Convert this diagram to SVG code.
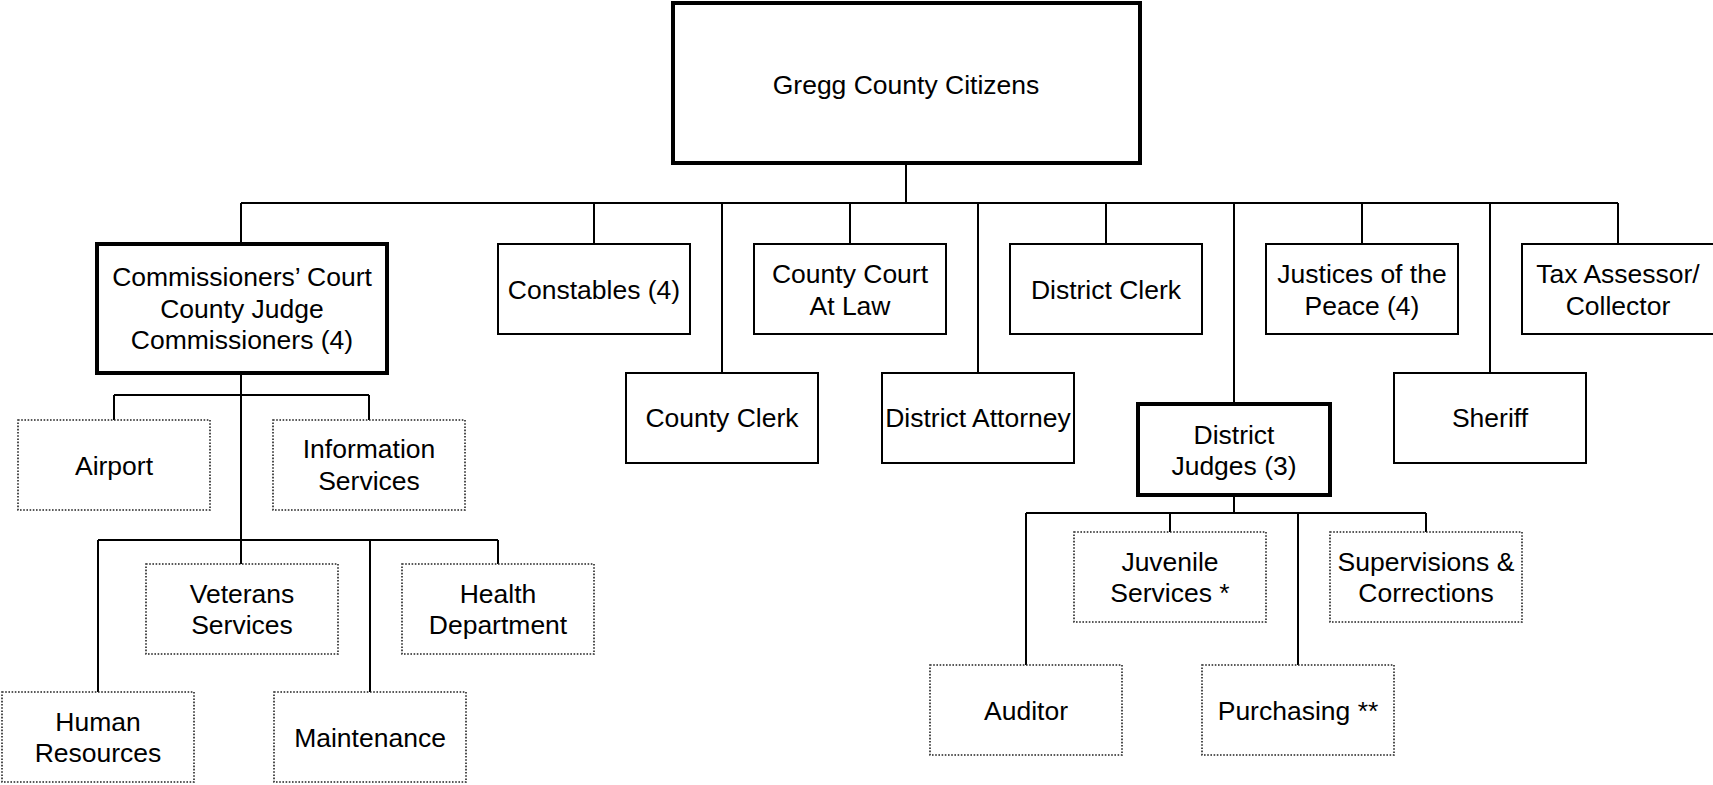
<svg xmlns="http://www.w3.org/2000/svg" width="1713" height="785" viewBox="0 0 1713 785">
<style>
.box{fill:#fff;stroke:#000;stroke-width:2}
.thick{fill:#fff;stroke:#000;stroke-width:4}
.dot{fill:#fff;stroke:#222;stroke-width:1.6;stroke-dasharray:1.6 1.6}
.conn{fill:none;stroke:#000;stroke-width:2}
text{font-family:"Liberation Sans",Arial,sans-serif;font-size:26.5px;fill:#000;text-anchor:middle}
</style>
<rect width="1713" height="785" fill="#fff"/>
<g id="connectors" class="conn">
<path d="M906 164V203M241 203H1618"/>
<path d="M241 203V244M594 203V244M722 203V373M850 203V244M978 203V373M1106 203V244M1234 203V404M1362 203V244M1490 203V373M1618 203V244"/>
<path d="M241 373V564M114 395H369M114 395V420M369 395V420M98 540H498M98 540V692M370 540V692M498 540V564"/>
<path d="M1234 495V513M1026 513H1426M1026 513V665M1170 513V532M1298 513V665M1426 513V532"/>
</g>
<g id="citizens"><rect class="thick" x="673" y="3" width="467" height="160"/><text x="906" y="94">Gregg County Citizens</text></g>
<g id="commissioners"><rect class="thick" x="97" y="244" width="290" height="129"/><text x="242" y="286">Commissioners’ Court</text><text x="242" y="318">County Judge</text><text x="242" y="349">Commissioners (4)</text></g>
<g id="constables"><rect class="box" x="498" y="244" width="192" height="90"/><text x="594" y="298.5">Constables (4)</text></g>
<g id="county-court"><rect class="box" x="754" y="244" width="192" height="90"/><text x="850" y="283">County Court</text><text x="850" y="314.5">At Law</text></g>
<g id="district-clerk"><rect class="box" x="1010" y="244" width="192" height="90"/><text x="1106" y="298.5">District Clerk</text></g>
<g id="justices"><rect class="box" x="1266" y="244" width="192" height="90"/><text x="1362" y="283">Justices of the</text><text x="1362" y="314.5">Peace (4)</text></g>
<g id="tax-assessor"><rect class="box" x="1522" y="244" width="194" height="90"/><text x="1618" y="283">Tax Assessor/</text><text x="1618" y="314.5">Collector</text></g>
<g id="county-clerk"><rect class="box" x="626" y="373" width="192" height="90"/><text x="722" y="427">County Clerk</text></g>
<g id="district-attorney"><rect class="box" x="882" y="373" width="192" height="90"/><text x="978" y="427">District Attorney</text></g>
<g id="sheriff"><rect class="box" x="1394" y="373" width="192" height="90"/><text x="1490" y="427">Sheriff</text></g>
<g id="district-judges"><rect class="thick" x="1138" y="404" width="192" height="91"/><text x="1234" y="443.5">District</text><text x="1234" y="474.5">Judges (3)</text></g>
<g id="airport"><rect class="dot" x="18" y="420" width="192" height="90"/><text x="114" y="475">Airport</text></g>
<g id="information-services"><rect class="dot" x="273" y="420" width="192" height="90"/><text x="369" y="458">Information</text><text x="369" y="490">Services</text></g>
<g id="veterans-services"><rect class="dot" x="146" y="564" width="192" height="90"/><text x="242" y="603">Veterans</text><text x="242" y="634">Services</text></g>
<g id="health-department"><rect class="dot" x="402" y="564" width="192" height="90"/><text x="498" y="603">Health</text><text x="498" y="634">Department</text></g>
<g id="human-resources"><rect class="dot" x="2" y="692" width="192" height="90"/><text x="98" y="731">Human</text><text x="98" y="762">Resources</text></g>
<g id="maintenance"><rect class="dot" x="274" y="692" width="192" height="90"/><text x="370" y="746.5">Maintenance</text></g>
<g id="juvenile-services"><rect class="dot" x="1074" y="532" width="192" height="90"/><text x="1170" y="571">Juvenile</text><text x="1170" y="602">Services *</text></g>
<g id="supervisions"><rect class="dot" x="1330" y="532" width="192" height="90"/><text x="1426" y="571">Supervisions &amp;</text><text x="1426" y="602">Corrections</text></g>
<g id="auditor"><rect class="dot" x="930" y="665" width="192" height="90"/><text x="1026" y="720">Auditor</text></g>
<g id="purchasing"><rect class="dot" x="1202" y="665" width="192" height="90"/><text x="1298" y="720">Purchasing **</text></g>
</svg>
